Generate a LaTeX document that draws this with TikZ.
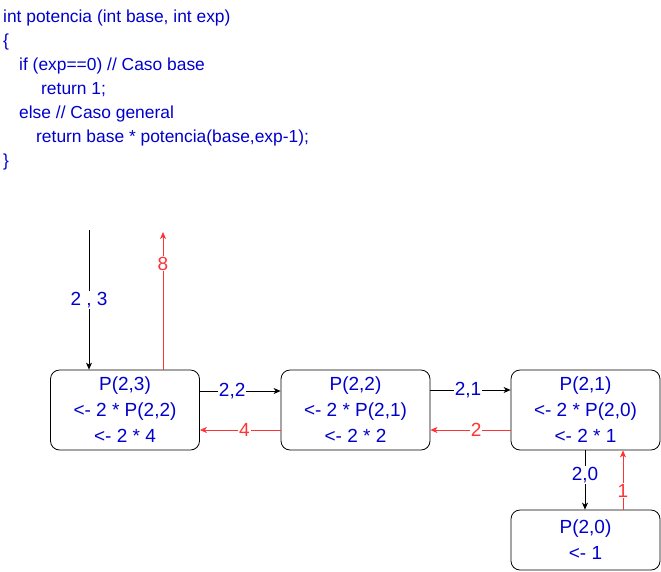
\documentclass[tikz,border=0pt]{standalone}
\usepackage{fontspec}
\setmainfont{Liberation Sans}
\usetikzlibrary{arrows.meta}
\definecolor{txtblue}{HTML}{0000CC}
\definecolor{redl}{HTML}{FF3333}
\begin{document}
\begin{tikzpicture}[x=1pt,y=-1pt,
  font=\fontsize{19}{23}\selectfont,
  box/.style={draw=black,rounded corners=9pt,minimum width=149pt,minimum height=80pt,text=txtblue,align=center,inner sep=0pt,line width=0.8pt},
  codeline/.style={anchor=west,text=txtblue,inner sep=0pt,font=\fontsize{17.4}{20}\selectfont},
  blk/.style={draw=black,line width=0.7pt,-{Stealth[length=7pt,width=6pt,inset=2pt]}},
  rd/.style={draw=redl,line width=0.7pt,-{Stealth[length=7pt,width=6pt,inset=2pt]}},
  lb/.style={fill=white,text=txtblue,inner sep=1pt},
  lr/.style={fill=white,text=redl,inner sep=1pt}]
\useasboundingbox (0,0) rectangle (661,571);
\node[codeline] (c1) at (3,18) {int potencia (int base, int exp)};
\node[codeline] (c2) at (3,42) {\{};
\node[codeline] (c3) at (19,66) {if (exp==0) // Caso base};
\node[codeline] (c4) at (41,90) {return 1;};
\node[codeline] (c5) at (19,114) {else // Caso general};
\node[codeline] (c6) at (36,138) {return base * potencia(base,exp-1);};
\node[codeline] (c7) at (3,162) {\}};

\node[box] (b1) at (125,410) {P(2,3)\\[3pt]<- 2 * P(2,2)\\[3pt]<- 2 * 4};
\node[box] (b2) at (355.5,410) {P(2,2)\\[3pt]<- 2 * P(2,1)\\[3pt]<- 2 * 2};
\node[box] (b3) at (585.5,410) {P(2,1)\\[3pt]<- 2 * P(2,0)\\[3pt]<- 2 * 1};
\node[box,minimum height=60pt] (b4) at (585.5,540) {P(2,0)\\[3pt]<- 1};

\coordinate (inTop) at (89,230);
\coordinate (outTop) at (163,232);
\draw[blk] (inTop) -- node[lb,pos=0.5] {2 , 3} (inTop |- b1.north);
\draw[rd] (outTop |- b1.north) -- node[lr,pos=0.77] {8} (outTop);

\draw[blk] (b1.east |- 0,391) -- node[lb,pos=0.4] {2,2} (b2.west |- 0,391);
\draw[rd] (b2.west |- 0,430) -- node[lr,pos=0.45] {4} (b1.east |- 0,430);
\draw[blk] (b2.east |- 0,390) -- node[lb,pos=0.47] {2,1} (b3.west |- 0,390);
\draw[rd] (b3.west |- 0,430) -- node[lr,pos=0.43] {2} (b2.east |- 0,430);

\draw[blk] (b3.south -| 585,0) -- node[lb,pos=0.42] {2,0} (b4.north -| 585,0);
\draw[rd] (b4.north -| 623,0) -- node[lr,pos=0.32] {1} (b3.south -| 623,0);
\end{tikzpicture}
\end{document}
